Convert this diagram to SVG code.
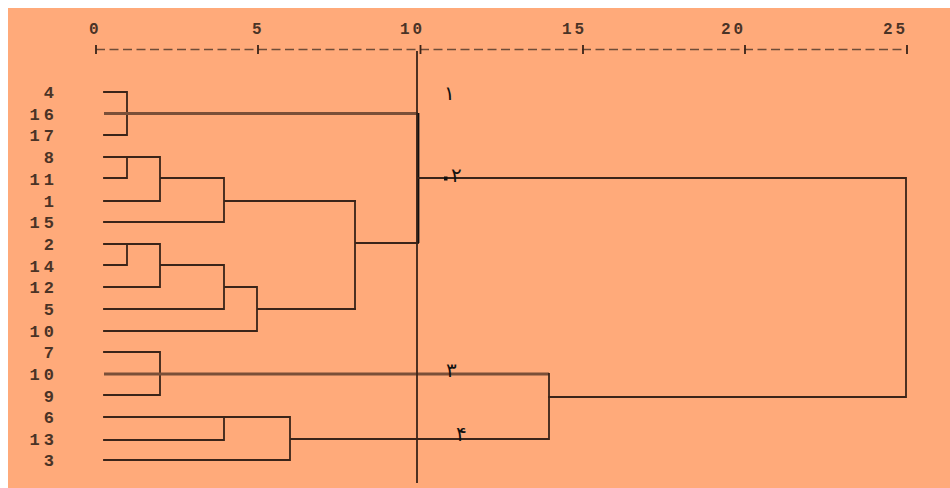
<svg xmlns="http://www.w3.org/2000/svg" width="950" height="488" viewBox="0 0 950 488">
<style>
.bg{fill:#FFAA7A}
.ax{font-family:"Liberation Mono","DejaVu Sans Mono",monospace;font-weight:bold;font-size:16px;fill:#4a3326;letter-spacing:3px}
.lb{font-family:"Liberation Mono","DejaVu Sans Mono",monospace;font-weight:bold;font-size:17px;fill:#4a3326;letter-spacing:4px;text-anchor:end}
.ar{font-family:"DejaVu Sans",sans-serif;font-size:20px;fill:#111}
.ln{fill:none;stroke:#3a2419;stroke-width:1.8;stroke-linecap:square}
.lt{fill:none;stroke:#7a4f38;stroke-width:2.8}
.dash{stroke:#6e4c38;stroke-width:1.6;stroke-dasharray:9 4.5}
.tk{stroke:#3a2419;stroke-width:1.8}
</style>
<rect x="0" y="0" width="950" height="488" fill="#ffffff"/>
<rect class="bg" x="8" y="8" width="942" height="480"/>
<g id="axis">
<line class="dash" x1="96" y1="49.5" x2="907" y2="49.5"/>
<path class="tk" d="M96 45V54M258 45V54M420.5 45V54M583 45V54M745 45V54M907 45V54"/>
<text class="ax" x="89" y="34">0</text>
<text class="ax" x="252" y="34">5</text>
<text class="ax" x="400" y="34">10</text>
<text class="ax" x="562" y="34">15</text>
<text class="ax" x="721" y="34">20</text>
<text class="ax" x="883" y="34">25</text>
</g>
<g id="labels">
<text class="lb" x="58" y="98">4</text>
<text class="lb" x="58" y="120">16</text>
<text class="lb" x="58" y="141">17</text>
<text class="lb" x="58" y="163">8</text>
<text class="lb" x="58" y="185">11</text>
<text class="lb" x="58" y="207">1</text>
<text class="lb" x="58" y="228">15</text>
<text class="lb" x="58" y="250">2</text>
<text class="lb" x="58" y="272">14</text>
<text class="lb" x="58" y="293">12</text>
<text class="lb" x="58" y="315">5</text>
<text class="lb" x="58" y="337">10</text>
<text class="lb" x="58" y="358">7</text>
<text class="lb" x="58" y="380">10</text>
<text class="lb" x="58" y="402">9</text>
<text class="lb" x="58" y="423">6</text>
<text class="lb" x="58" y="445">13</text>
<text class="lb" x="58" y="466">3</text>
</g>
<g id="connectors">
<path class="ln" d="M104 92H127V135H104"/>
<path class="lt" d="M104 113.5H418"/>
<path class="ln" d="M104 157H160V201H104M104 178H127V157M160 178H224V222H104M224 201H355"/>
<path class="ln" d="M104 244H160V287H104M104 265H127V244M160 265H224V309H104M224 287H257V331H104M257 309H355"/>
<path class="ln" d="M355 201V309M355 243H418"/>
<path fill="none" stroke="#111" stroke-width="2.8" d="M418 113V243"/>
<path class="ln" d="M418 178H906V397H549"/>
<path class="ln" d="M104 352H160V395H104"/>
<path class="lt" d="M104 374H549"/>
<path class="ln" d="M104 417H290V460H104M104 440H224V417M290 439H549V374"/>
<path class="ln" d="M417 52V482"/>
</g>
<g id="marks">
<text class="ar" x="444" y="100">١</text>
<rect x="444" y="176.5" width="3.5" height="4" fill="#111"/>
<text class="ar" x="451" y="182">٢</text>
<text class="ar" x="446" y="377">٣</text>
<text class="ar" x="456" y="441">۴</text>
</g>
</svg>
